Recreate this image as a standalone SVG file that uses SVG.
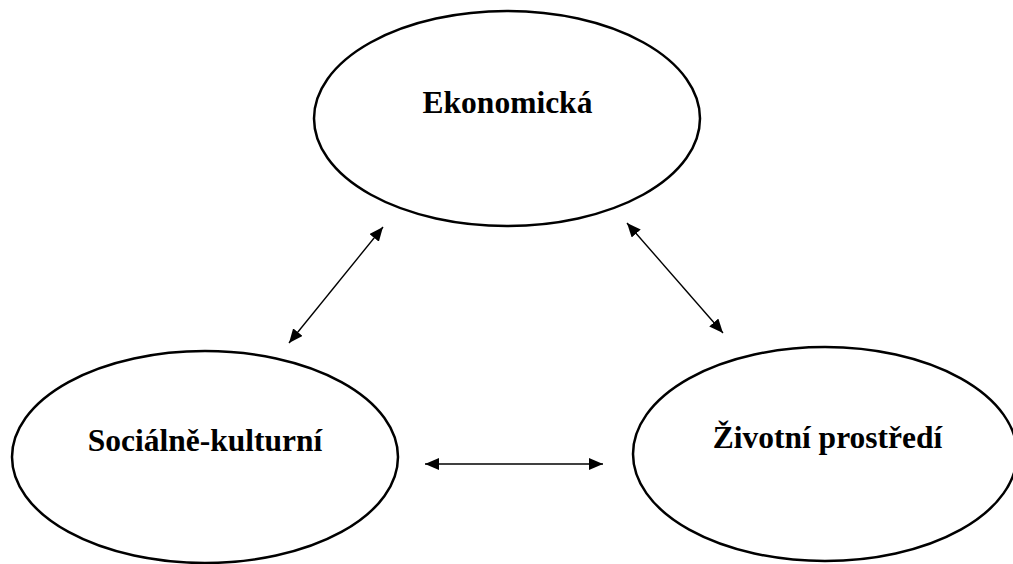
<svg xmlns="http://www.w3.org/2000/svg" width="1013" height="564" viewBox="0 0 1013 564">
<style>
.node ellipse{fill:#fff;stroke:#000;stroke-width:2.5}
.node text{font-family:"Liberation Serif","Times New Roman",serif;font-weight:bold;font-size:31.5px;fill:#000;text-anchor:middle}
.conn line{stroke:#000;stroke-width:1.4;fill:none}
</style>
<defs>
<marker id="ah" markerUnits="userSpaceOnUse" markerWidth="14" markerHeight="12" viewBox="0 0 14 12" refX="14" refY="6" orient="auto-start-reverse">
<path d="M0,0 L14,6 L0,12 z" fill="#000"/>
</marker>
</defs>
<rect width="1013" height="564" fill="#fff"/>
<g id="node-ekonomicka" class="node">
<ellipse cx="507" cy="118.5" rx="193" ry="107.5"/>
<text x="507.5" y="113">Ekonomická</text>
</g>
<g id="node-socialne-kulturni" class="node">
<ellipse cx="205" cy="457" rx="193" ry="106"/>
<text x="205" y="451">Sociálně-kulturní</text>
</g>
<g id="node-zivotni-prostredi" class="node">
<ellipse cx="825" cy="454" rx="192" ry="107"/>
<text x="827.5" y="448">Životní prostředí</text>
</g>
<g id="connectors" class="conn">
<line x1="383" y1="227" x2="289" y2="343" marker-start="url(#ah)" marker-end="url(#ah)"/>
<line x1="627" y1="223" x2="723" y2="333" marker-start="url(#ah)" marker-end="url(#ah)"/>
<line x1="425" y1="464" x2="603" y2="464" marker-start="url(#ah)" marker-end="url(#ah)"/>
</g>
</svg>
